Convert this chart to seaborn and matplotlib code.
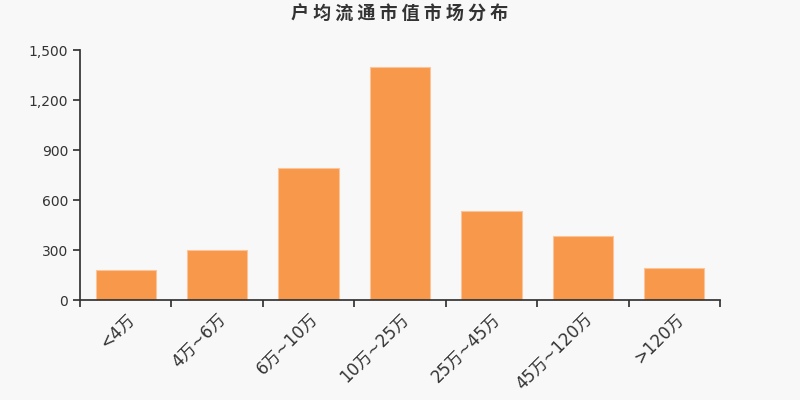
import seaborn as sns
import pandas as pd
import numpy as np
import matplotlib
matplotlib.use("Agg")
import matplotlib.pyplot as plt
from matplotlib.ticker import FuncFormatter

# data
categories = ['<4万', '4万~6万', '6万~10万', '10万~25万', '25万~45万', '45万~120万', '>120万']
counts = [180, 300, 790, 1400, 532, 384, 190]

df = pd.DataFrame({'range': categories, 'count': counts})

sns.set_theme(style='ticks')
plt.rcParams['font.family'] = ['DejaVu Sans', 'Noto Sans CJK SC']

fig = plt.figure(figsize=(8, 4), dpi=100, facecolor='#f8f8f8')
ax = fig.add_axes([0.1, 0.25, 0.8, 0.625])
ax.set_facecolor('#f8f8f8')

sns.barplot(data=df, x='range', y='count', color='#f7984a', saturation=1,
            width=0.66, edgecolor='#fbc49a', linewidth=0.8, ax=ax)

ax.set_ylim(0, 1500)
ax.set_yticks([0, 300, 600, 900, 1200, 1500])
ax.yaxis.set_major_formatter(FuncFormatter(lambda v, p: f'{int(v):,}'))
ax.set_xlim(-0.5, len(categories) - 0.5)

# ticks at category boundaries, labels at centres
ax.set_xticks(np.arange(-0.5, len(categories), 1.0))
ax.set_xticklabels([])
ax.set_xticks(np.arange(len(categories)), minor=True)
ax.set_xticklabels(categories, minor=True, rotation=45, ha='right',
                   rotation_mode='anchor', fontsize=12, color='#333333')
ax.tick_params(axis='x', which='minor', length=0, pad=7)
ax.tick_params(axis='x', which='major', length=5, color='#333333')
ax.tick_params(axis='y', length=5, labelsize=10, colors='#333333')

for s in ['top', 'right']:
    ax.spines[s].set_visible(False)
for s in ['left', 'bottom']:
    ax.spines[s].set_color('#333333')

ax.set_xlabel('')
ax.set_ylabel('')

fig.text(0.5, 0.965, '户 均 流 通 市 值 市 场 分 布', ha='center', va='center',
         fontsize=13, fontweight='bold', color='#333333',
         family=['Noto Sans CJK SC', 'DejaVu Sans'])

fig.savefig('out.png', dpi=100, facecolor=fig.get_facecolor())
